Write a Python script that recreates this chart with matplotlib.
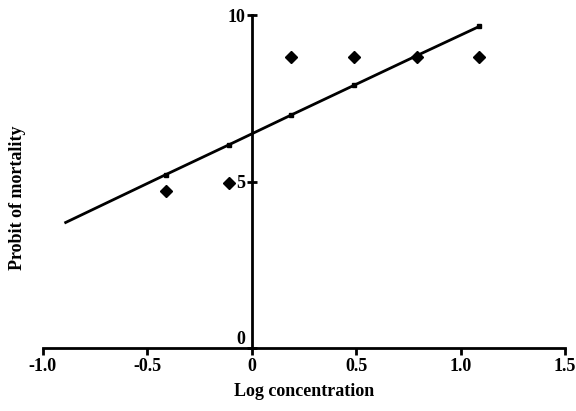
import matplotlib
matplotlib.use("Agg")
import matplotlib.pyplot as plt

# Observed probit points (diamonds)
obs_x = [-0.41, -0.11, 0.19, 0.49, 0.79, 1.09]
obs_y = [4.72, 4.95, 8.75, 8.75, 8.73, 8.73]

# Fitted regression line points (small squares)
fit_x = [-0.89, -0.41, -0.11, 0.19, 0.49, 0.79, 1.09]
fit_y = [3.77, 5.21, 6.10, 7.00, 7.89, 8.78, 9.66]

xticks = [-1.0, -0.5, 0, 0.5, 1.0, 1.5]
xticklabels = ["-1.0", "-0.5", "0", "0.5", "1.0", "1.5"]
yticks = [0, 5, 10]
yticklabels = ["0", "5", "10"]

plt.rcParams['font.family'] = ['Liberation Serif', 'DejaVu Serif']
plt.rcParams['font.weight'] = 'bold'

fig = plt.figure(figsize=(5.76, 4.11), dpi=100)
ax = fig.add_axes([0.0741, 0.1533, 0.9068, 0.810])

ax.plot(fit_x, fit_y, color='black', lw=2.0, zorder=2)
ax.plot(fit_x[1:], fit_y[1:], ls='none', marker='s', ms=3.5, color='black', zorder=3)
ax.plot(obs_x, obs_y, ls='none', marker='D', ms=5.8, color='black', zorder=3)

ax.set_xlim(-1.0, 1.5)
ax.set_ylim(0, 10)

ax.spines['top'].set_visible(False)
ax.spines['right'].set_visible(False)
ax.spines['left'].set_position(('data', 0))
ax.spines['bottom'].set_position(('data', 0))
for s in ('left', 'bottom'):
    ax.spines[s].set_linewidth(2.0)

ax.set_xticks(xticks)
ax.set_xticklabels(xticklabels)
ax.set_yticks(yticks)
ax.set_yticklabels(yticklabels)
ax.tick_params(axis='x', direction='out', length=5, width=2, labelsize=13, pad=2)
ax.tick_params(axis='y', direction='inout', length=7, width=2, labelsize=13, pad=1)
ax.get_yticklabels()[0].set_verticalalignment('bottom')

ax.set_xlabel('Log concentration', fontsize=13, labelpad=6, fontweight='bold')
fig.text(0.031, 0.518, 'Probit of mortality', rotation=90, fontsize=13,
         va='center', ha='center', fontweight='bold')

fig.savefig('out.png', dpi=100)
